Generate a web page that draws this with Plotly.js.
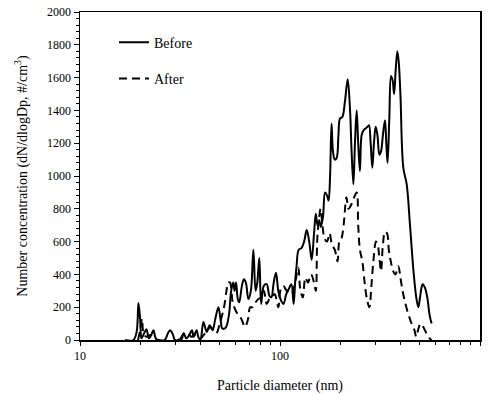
<!DOCTYPE html>
<html>
<head>
<meta charset="utf-8">
<script src="https://cdn.plot.ly/plotly-3.0.1.min.js"></script>
<style>html,body{margin:0;padding:0;background:#fff;}#chart{width:491px;height:394px;}</style>
</head>
<body>
<div id="chart"></div>
<script>
// Before series: particle diameter (nm) and number concentration
const beforeDiameter = [16.8,18.5,19.2,19.6,20.0,20.3,20.9,21.5,22.1,22.7,23.3,23.9,24.5,26.5,27.5,28.2,29.0,29.9,31.6,33.0,34.0,35.5,36.3,37.0,38.3,39.0,40.0,41.4,43.0,44.5,46.0,47.5,49.2,50.5,51.5,53.5,55.5,57.0,58.4,59.3,60.3,61.5,62.5,64.5,66.0,67.5,69.5,71.5,73.6,75.5,77.0,78.8,80.5,83.0,85.8,88.5,90.5,93.0,95.5,98.0,100.5,104,107.5,110.5,114,117,119,121,124,128,132,136,140,144,148,151,154,157,160,164,168,172,175,178,181,184,188,192,196,199.5,205,211,218,224,228,232.8,237,241.7,246,251,256,262,268,274,278.6,284,289.5,295,300.9,307,314,320,327,335,340,345,352,359,366,372,379,386,392,400,413.6,430,446.7,465,480,491.5,500,510,516.7,530,545,560,573];
const beforeValue = [0,0,50,225,120,10,40,65,10,30,60,10,0,0,40,60,40,0,5,40,10,40,60,20,60,20,0,110,50,90,60,130,200,120,70,75,150,300,350,300,350,250,230,330,370,350,250,300,550,300,350,500,220,330,340,270,260,350,410,300,250,220,280,310,340,220,350,450,550,560,600,670,600,490,650,770,700,730,690,750,900,880,850,1000,1320,1150,1100,1110,1250,1350,1360,1450,1590,1400,1150,950,1200,1400,1200,1030,1250,1280,1290,1300,1310,1200,1050,1200,1300,1250,1130,1150,1250,1340,1200,1080,1350,1610,1580,1500,1650,1760,1700,1500,1050,950,700,420,260,200,250,320,340,320,260,150,100];

// After series
const afterDiameter = [19.5,20.0,20.4,20.8,21.5,22.5,23.5,24.5,32.0,33.0,34.5,36.0,38.0,40.0,41.5,43.5,45.0,46.5,48.0,50.0,52.5,54.0,55.0,56.2,58.0,60.0,62.0,64.0,66.8,69.0,71.0,73.0,75.5,78.0,80.5,83.0,85.8,88.5,91.0,94.0,98.1,100.8,104,108,114,118,123.5,126,130,134,138,143,148,151,154,159.7,163,167,172,177,182,188,194,198,203,208,215,220,226,233,241.7,246,251,258,265,272,279.8,286,293,302,308,314,320,327,335,343,350,358,368,378,390.6,400,410,420,435,455,470,480,490,504,520,540,560,573];
const afterValue = [0,60,130,40,20,30,10,0,0,40,45,20,30,10,30,60,80,60,40,100,200,300,350,350,230,180,150,130,80,120,200,200,230,250,260,300,220,250,260,280,200,310,330,300,280,330,440,320,260,380,350,400,350,300,640,800,700,620,600,650,580,550,480,600,620,700,870,800,820,860,900,700,550,480,350,250,200,320,480,600,580,500,420,580,660,650,550,480,420,400,450,380,300,240,170,100,60,20,60,100,80,40,10,0];

const seriesNames = ['Before', 'After'];
const xTickVals = [10, 100, 1000];
const xTickText = ['10', '100', '1000'];

const font = 'Liberation Serif';

const traces = [
  {x: beforeDiameter, y: beforeValue, name: seriesNames[0], type: 'scatter', mode: 'lines',
   line: {color: '#000', width: 2, shape: 'spline', smoothing: 1.0}, legendgroup: 'a'},
  {x: afterDiameter, y: afterValue, name: seriesNames[1], type: 'scatter', mode: 'lines',
   line: {color: '#000', width: 2, dash: '8px,5px', shape: 'spline', smoothing: 1.0}, legendgroup: 'b'}
];

const layout = {
  width: 491, height: 394,
  margin: {l: 80, r: 11, t: 12, b: 54},
  paper_bgcolor: '#fff', plot_bgcolor: '#fff',
  font: {family: font, color: '#000', size: 12},
  showlegend: true,
  legend: {x: 0.085, y: 0.955, xanchor: 'left', yanchor: 'top', bgcolor: 'rgba(0,0,0,0)',
           font: {family: font, size: 14, color: '#000'}, traceorder: 'grouped', tracegroupgap: 15},
  xaxis: {type: 'log', range: [1, 3], tickvals: xTickVals, ticktext: xTickText,
          ticks: 'outside', ticklen: 4, tickcolor: '#000', linecolor: '#000', linewidth: 1.5,
          mirror: true, showgrid: false, zeroline: false,
          minor: {ticks: 'outside', ticklen: 3, tickcolor: '#000', tickvals: [20,30,40,50,60,70,80,90,200,300,400,500,600,700,800,900]},
          tickfont: {family: font, size: 12, color: '#000'},
          title: {text: 'Particle diameter (nm)', font: {family: font, size: 14, color: '#000'}, standoff: 18}},
  yaxis: {range: [0, 2000], dtick: 200, ticks: 'outside', ticklen: 5, tickcolor: '#000',
          linecolor: '#000', linewidth: 1.5, mirror: true, showgrid: false, zeroline: false,
          minor: {ticks: 'outside', ticklen: 3, dtick: 40, tickcolor: '#000'},
          tickfont: {family: font, size: 12, color: '#000'},
          title: {text: 'Number concentration (dN/dlogDp, #/cm<sup>3</sup>)', font: {family: font, size: 14, color: '#000'}, standoff: 16}}
};

Plotly.newPlot('chart', traces, layout, {staticPlot: true, displayModeBar: false});
</script>
</body>
</html>
